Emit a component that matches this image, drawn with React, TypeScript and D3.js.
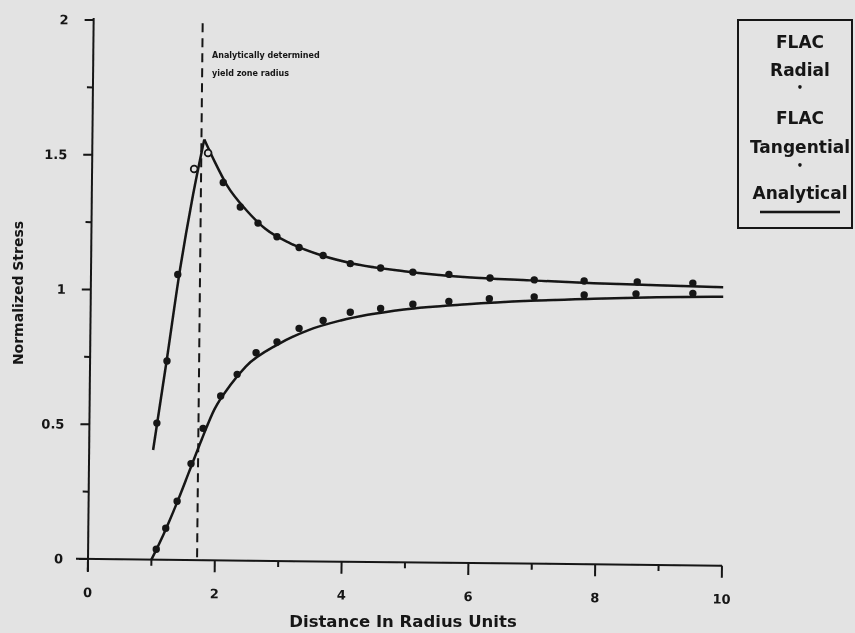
import React from 'react';
import * as d3 from 'd3';

// FLAC results (markers)
const radialX = [1.075, 1.221, 1.396, 1.609, 1.793, 2.066, 2.322, 2.617, 2.945, 3.291, 3.669, 4.096, 4.574, 5.082, 5.649, 6.287, 6.994, 7.782, 8.599, 9.496];
const radialY = [0.039, 0.117, 0.218, 0.358, 0.489, 0.610, 0.691, 0.772, 0.813, 0.864, 0.894, 0.926, 0.941, 0.958, 0.970, 0.981, 0.990, 0.999, 1.005, 1.009];
const tangX = [1.064, 1.213, 1.369, 1.610, 1.827, 2.071, 2.344, 2.626, 2.927, 3.278, 3.658, 4.088, 4.567, 5.076, 5.645, 6.294, 6.992, 7.779, 8.617, 9.494];
const tangY = [0.507, 0.738, 1.059, 1.451, 1.511, 1.402, 1.312, 1.253, 1.203, 1.164, 1.135, 1.106, 1.091, 1.077, 1.070, 1.058, 1.053, 1.051, 1.049, 1.047];
const hollowTang = [1.610, 1.827];

// Analytical curves
const anRadX = [1.0, 1.192, 1.387, 1.581, 1.775, 1.969, 2.214, 2.460, 2.955, 3.451, 3.948, 4.943, 5.939, 6.935, 7.932, 8.928, 9.975];
const anRadY = [0.0, 0.097, 0.208, 0.328, 0.449, 0.560, 0.650, 0.721, 0.803, 0.859, 0.895, 0.938, 0.960, 0.975, 0.985, 0.993, 0.998];
const anTanPlasticX = [1.009, 1.213, 1.398, 1.585, 1.765];
const anTanPlasticY = [0.407, 0.748, 1.069, 1.340, 1.561];
const anTanElasticX = [1.765, 1.928, 2.131, 2.434, 2.737, 3.138, 3.638, 4.138, 4.937, 5.934, 6.932, 7.929, 8.926, 9.973];
const anTanElasticY = [1.561, 1.481, 1.392, 1.302, 1.233, 1.179, 1.135, 1.106, 1.080, 1.060, 1.051, 1.043, 1.038, 1.033];

const yieldRadius = 1.72;
const xTicks = [0, 2, 4, 6, 8, 10];
const xMinor = [1, 3, 5, 7, 9];
const yTicks = [0, 0.5, 1, 1.5, 2];
const yMinor = [0.25, 0.75, 1.25, 1.75];
const legendLines = ['FLAC', 'Radial', '•', 'FLAC', 'Tangential', '•', 'Analytical'];
const legendBase = [48, 76, 91, 124, 153, 169, 199];

const ink = '#151515';
const paper = '#e3e3e3';
const font = '"DejaVu Sans", "Liberation Sans", Arial, sans-serif';

const x = d3.scaleLinear().domain([0, 10]).range([88, 722]);
const y = d3.scaleLinear().domain([0, 2]).range([559, 20]);
// the scanned page is turned a little clockwise
const skew = `rotate(0.6, ${x(0)}, ${y(0)})`;

const line = d3.line<[number, number]>()
    .x(d => x(d[0]))
    .y(d => y(d[1]))
    .curve(d3.curveMonotoneX);

const zip = (xs: number[], ys: number[]) => xs.map((v, i) => [v, ys[i]] as [number, number]);

const App = () => {
    return (
        <svg width={855} height={633} style={{ position: 'absolute', left: 0, top: 0 }}
            fontFamily={font} fontWeight={700} fill={ink}>
            <defs>
                <filter id="scan" x="-5%" y="-5%" width="110%" height="110%">
                    <feGaussianBlur stdDeviation={0.6} />
                </filter>
            </defs>
            <rect x={0} y={0} width={855} height={633} fill={paper} />

            <g filter="url(#scan)">
                <g transform={skew}>
                    {/* Y axis */}
                    <line x1={x(0)} x2={x(0)} y1={y(2) - 2} y2={y(0) + 13} stroke={ink} strokeWidth={2} />
                    {yTicks.map(t => (
                        <g key={'yt' + t}>
                            <line x1={x(0) - 9} x2={x(0)} y1={y(t)} y2={y(t)} stroke={ink} strokeWidth={2} />
                            <text x={63} y={y(t)} dy="0.36em" textAnchor="end" fontSize={13}>{t}</text>
                        </g>
                    ))}
                    {yMinor.map(t => (
                        <line key={'ym' + t} x1={x(0) - 6} x2={x(0)} y1={y(t)} y2={y(t)} stroke={ink} strokeWidth={2} />
                    ))}

                    {/* X axis */}
                    <line x1={x(0) - 12} x2={x(10)} y1={y(0)} y2={y(0)} stroke={ink} strokeWidth={2} />
                    {xTicks.map(t => (
                        <g key={'xt' + t}>
                            <line x1={x(t)} x2={x(t)} y1={y(0)} y2={y(0) + 12} stroke={ink} strokeWidth={2} />
                            <text x={x(t)} y={597} textAnchor="middle" fontSize={13}>{t}</text>
                        </g>
                    ))}
                    {xMinor.map(t => (
                        <line key={'xm' + t} x1={x(t)} x2={x(t)} y1={y(0)} y2={y(0) + 6} stroke={ink} strokeWidth={2} />
                    ))}

                    {/* yield zone radius */}
                    <line x1={x(yieldRadius)} x2={x(yieldRadius)} y1={y(2) + 2} y2={y(0)} stroke={ink}
                        strokeWidth={2} strokeDasharray="9,6" />

                    {/* analytical curves */}
                    <g fill="none" stroke={ink} strokeWidth={2.5}>
                        <path d={line(zip(anRadX, anRadY)) || ''} />
                        <path d={line(zip(anTanPlasticX, anTanPlasticY)) || ''} />
                        <path d={line(zip(anTanElasticX, anTanElasticY)) || ''} />
                    </g>

                    {/* FLAC markers */}
                    {radialX.map((v, i) => (
                        <circle key={'r' + i} cx={x(v)} cy={y(radialY[i])} r={3.7} fill={ink} />
                    ))}
                    {tangX.map((v, i) => (
                        hollowTang.includes(v)
                            ? <circle key={'t' + i} cx={x(v)} cy={y(tangY[i])} r={3.4} fill={paper} stroke={ink} strokeWidth={1.8} />
                            : <circle key={'t' + i} cx={x(v)} cy={y(tangY[i])} r={3.7} fill={ink} />
                    ))}
                </g>

                <text x={212} y={58} fontSize={8}>Analytically determined</text>
                <text x={212} y={76} fontSize={8}>yield zone radius</text>

                <text transform="translate(23,293) rotate(-90)" textAnchor="middle" fontSize={14}>
                    Normalized Stress
                </text>
                <text x={403} y={627} textAnchor="middle" fontSize={16.5}>Distance In Radius Units</text>

                {/* legend */}
                <rect x={738} y={20} width={114} height={208} fill="none" stroke={ink} strokeWidth={2} />
                {legendLines.map((s, i) => (
                    <text key={'lg' + i} x={800} y={legendBase[i]}
                        textAnchor="middle" fontSize={s === '•' ? 10 : 17}>{s}</text>
                ))}
                <line x1={760} x2={840} y1={212} y2={212} stroke={ink} strokeWidth={2.5} />
            </g>
        </svg>
    );
};

export default App;
